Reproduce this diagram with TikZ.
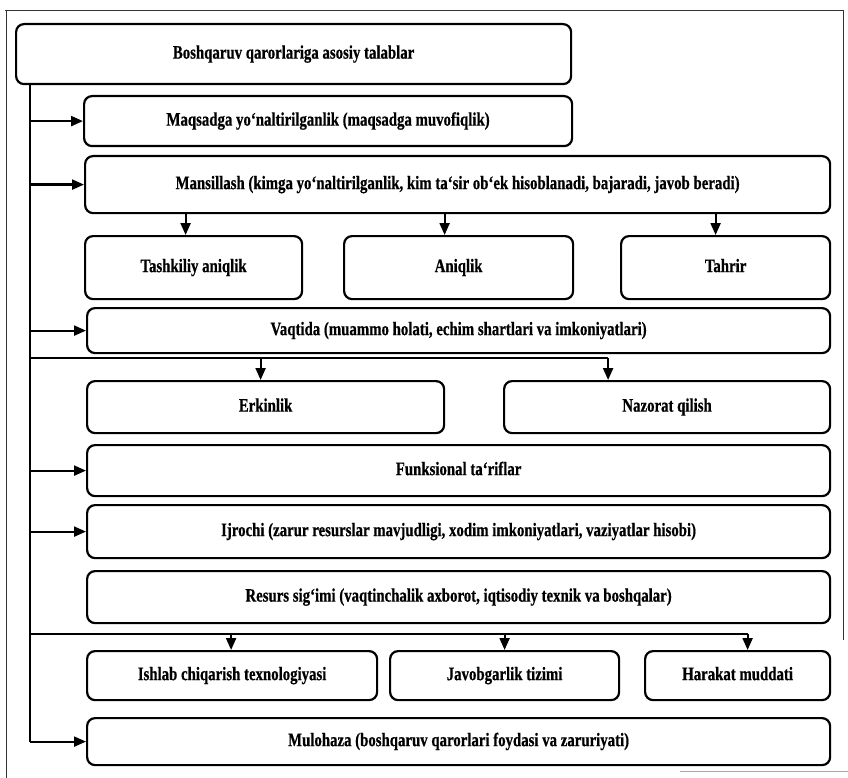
\documentclass[tikz,border=0pt]{standalone}
\usepackage{fontspec}
\setmainfont{Liberation Serif}[FakeStretch=0.78, BoldFeatures={FakeBold=0.6}]
\usetikzlibrary{arrows.meta}

\tikzset{
  box/.style={draw, line width=2.2pt, rounded corners=8pt, fill=white,
    inner sep=0pt, anchor=north west, text height=13pt, text depth=4pt,
    font=\bfseries\fontsize{19}{22}\selectfont},
  conn/.style={line width=2.2pt},
  arr/.style={line width=2.2pt, -{Triangle[length=12pt,width=10pt]}},
  frame/.style={line width=0.9pt, black!80},
}

\begin{document}
\begin{tikzpicture}[x=1pt, y=-1pt]
  \useasboundingbox (0,0) rectangle (848,778);
  \fill[white] (0,0) rectangle (848,778);

  % page border lines around the figure
  \draw[frame] (5,10) -- (843,10);
  \draw[frame] (6,10) -- (6,778);
  \draw[frame] (843,10) -- (843,640);
  \draw[line width=0.8pt, black!35] (680,771) -- (848,771);

  % boxes: (left, top), width, height
  \node[box, minimum width=555pt, minimum height=60pt] (top) at (15,23)
    {Boshqaruv qarorlariga asosiy talablar};
  \node[box, minimum width=488pt, minimum height=50pt] (maqsad) at (83,95)
    {Maqsadga yo‘naltirilganlik (maqsadga muvofiqlik)};
  \node[box, minimum width=745pt, minimum height=57pt] (mansil) at (84,155)
    {Mansillash (kimga yo‘naltirilganlik, kim ta‘sir ob‘ek hisoblanadi, bajaradi, javob beradi)};
  \node[box, minimum width=217pt, minimum height=63pt] (tashkil) at (84,235)
    {Tashkiliy aniqlik};
  \node[box, minimum width=229pt, minimum height=63pt] (aniq) at (343,235)
    {Aniqlik};
  \node[box, minimum width=209pt, minimum height=63pt] (tahrir) at (620,235)
    {Tahrir};
  \node[box, minimum width=743pt, minimum height=45pt] (vaqt) at (86,307)
    {Vaqtida (muammo holati, echim shartlari va imkoniyatlari)};
  \node[box, minimum width=357pt, minimum height=52pt] (erkin) at (86,380)
    {Erkinlik};
  \node[box, minimum width=326pt, minimum height=52pt] (nazorat) at (503,380)
    {Nazorat qilish};
  \node[box, minimum width=743pt, minimum height=51pt] (funks) at (86,444)
    {Funksional ta‘riflar};
  \node[box, minimum width=743pt, minimum height=53pt] (ijro) at (86,504)
    {Ijrochi (zarur resurslar mavjudligi, xodim imkoniyatlari, vaziyatlar hisobi)};
  \node[box, minimum width=743pt, minimum height=52pt] (resurs) at (86,570)
    {Resurs sig‘imi (vaqtinchalik axborot, iqtisodiy texnik va boshqalar)};
  \node[box, minimum width=290pt, minimum height=49pt] (ishlab) at (86,650)
    {Ishlab chiqarish texnologiyasi};
  \node[box, minimum width=229pt, minimum height=49pt] (javob) at (389,650)
    {Javobgarlik tizimi};
  \node[box, minimum width=185pt, minimum height=49pt] (harakat) at (644,650)
    {Harakat muddati};
  \node[box, minimum width=743pt, minimum height=47pt] (mulo) at (86,717)
    {Mulohaza (boshqaruv qarorlari foydasi va zaruriyati)};

  % trunk running down the left side
  \coordinate (trunk) at (30,83);
  \coordinate (br1) at (30,358);
  \coordinate (br2) at (30,634);
  \draw[conn] (trunk) -- (trunk |- mulo.west);
  \draw[arr] (trunk |- mulo.west) -- (mulo.west);

  % side arrows
  \draw[arr] (trunk |- maqsad.west) -- (maqsad.west);
  \draw[arr] (trunk |- mansil.west) -- (mansil.west);
  \draw[arr] (trunk |- vaqt.west) -- (vaqt.west);
  \draw[arr] (trunk |- funks.west) -- (funks.west);
  \draw[arr] (trunk |- ijro.west) -- (ijro.west);

  % Mansillash children
  \draw[arr] ([xshift=-8pt]tashkil.north |- mansil.south) -- ([xshift=-8pt]tashkil.north);
  \draw[arr] ([xshift=-14pt]aniq.north |- mansil.south) -- ([xshift=-14pt]aniq.north);
  \draw[arr] ([xshift=-10pt]tahrir.north |- mansil.south) -- ([xshift=-10pt]tahrir.north);

  % first branch line
  \draw[conn] (br1) -- ([xshift=-59pt]nazorat.north |- br1);
  \draw[arr] ([xshift=-5pt]erkin.north |- br1) -- ([xshift=-5pt]erkin.north);
  \draw[arr] ([xshift=-59pt]nazorat.north |- br1) -- ([xshift=-59pt]nazorat.north);

  % second branch line
  \draw[conn] (br2) -- ([xshift=10pt]harakat.north |- br2);
  \draw[arr] ([xshift=-1pt]ishlab.north |- br2) -- ([xshift=-1pt]ishlab.north);
  \draw[arr] (javob.north |- br2) -- (javob.north);
  \draw[arr] ([xshift=10pt]harakat.north |- br2) -- ([xshift=10pt]harakat.north);
\end{tikzpicture}
\end{document}
